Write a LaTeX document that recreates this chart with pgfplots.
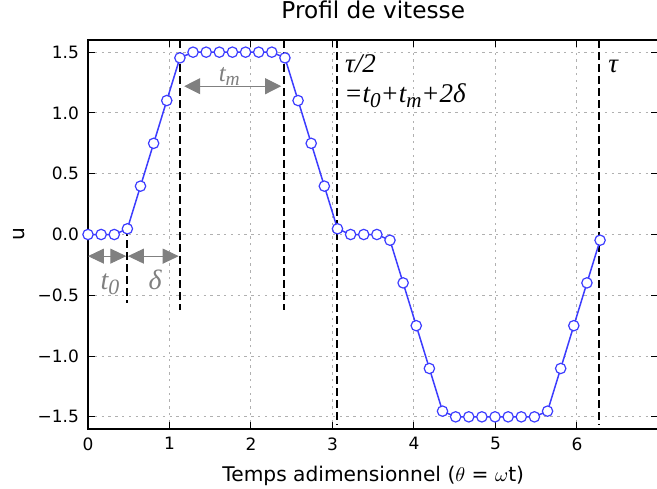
\documentclass[border=0pt]{standalone}
\usepackage{fontspec}
\setmainfont{DejaVu Sans}
\newfontfamily\ann{Liberation Serif}
\usepackage{pgfplots}
\pgfplotsset{compat=1.18}
\usetikzlibrary{arrows.meta}

\definecolor{lineblue}{RGB}{60,60,255}
\definecolor{annogray}{RGB}{128,128,128}
\definecolor{gridgray}{RGB}{176,176,176}

\newcommand\sub[1]{\raisebox{-0.35ex}{\scalebox{0.78}{#1}}}

% profil de vitesse, 40 points sur [0, 2pi]
\pgfplotstableread{
x u
0.0000 0
0.1611 0
0.3222 0
0.4833 0.047
0.6444 0.398
0.8055 0.750
0.9666 1.102
1.1278 1.453
1.2889 1.5
1.4500 1.5
1.6111 1.5
1.7722 1.5
1.9333 1.5
2.0944 1.5
2.2555 1.5
2.4166 1.453
2.5777 1.102
2.7388 0.750
2.8999 0.398
3.0610 0.047
3.2221 0
3.3833 0
3.5444 0
3.7055 -0.047
3.8666 -0.398
4.0277 -0.750
4.1888 -1.102
4.3499 -1.453
4.5110 -1.5
4.6721 -1.5
4.8332 -1.5
4.9943 -1.5
5.1554 -1.5
5.3165 -1.5
5.4777 -1.5
5.6388 -1.453
5.7999 -1.102
5.9610 -0.750
6.1221 -0.398
6.2832 -0.047
}\profil

\begin{document}
\begin{tikzpicture}
\path[use as bounding box] (-44pt,-29.5pt) rectangle (284.5pt,214.5pt);
\begin{axis}[
  at={(0,0)}, anchor=south west,
  scale only axis, width=285.25pt, height=194.5pt,
  xmin=0, xmax=7, ymin=-1.6, ymax=1.6,
  xtick={0,1,2,3,4,5,6,7},
  xticklabels={0,1,2,3,4,5,6,},
  ytick={-1.5,-1,-0.5,0,0.5,1,1.5},
  yticklabels={−1.5,−1.0,−0.5,0.0,0.5,1.0,1.5},
  tick align=inside, major tick length=3.5pt,
  tick style={black, line width=0.5pt},
  axis line style={line width=0.8pt},
  grid=major,
  grid style={gridgray, dash pattern=on 1.2pt off 2.2pt, line width=0.5pt},
  tick label style={font=\fontsize{8.5}{10}\selectfont},
  xticklabel style={yshift=-0.7pt},
  yticklabel style={xshift=-1pt},
  title={Profil de vitesse},
  title style={at={([yshift=5pt]axis description cs:0.5,1)}, anchor=base,
    font=\fontsize{11.6}{13}\selectfont},
  xlabel={Temps adimensionnel ($\theta$ = $\omega$t)},
  xlabel style={at={([yshift=-26.2pt]axis description cs:0.5,0)}, anchor=base,
    font=\fontsize{10.1}{12}\selectfont},
  ylabel={u},
  ylabel style={at={([xshift=-31.5pt]axis description cs:0,0.5)}, anchor=base,
    font=\fontsize{10.1}{12}\selectfont},
  clip mode=individual,
]
% lignes verticales
\addplot[black, line width=1pt, dash pattern=on 4pt off 2pt] coordinates {(0.483,0.05) (0.483,-0.56)};
\addplot[black, line width=1pt, dash pattern=on 4pt off 2pt] coordinates {(1.128,1.6) (1.128,-0.62)};
\addplot[black, line width=1pt, dash pattern=on 4pt off 2pt] coordinates {(2.40,1.6) (2.40,-0.62)};
\addplot[black, line width=1pt, dash pattern=on 4pt off 2pt] coordinates {(3.061,1.6) (3.061,-1.56)};
\addplot[black, line width=1pt, dash pattern=on 4pt off 2pt] coordinates {(6.27,1.6) (6.27,-1.56)};

\addplot[lineblue, line width=0.75pt, mark=*, mark size=2.6pt,
  mark options={fill=white, draw=lineblue, line width=0.6pt}] table {\profil};

% fleches
\draw[annogray, line width=0.5pt, {Triangle[length=8pt,width=7.5pt]}-{Triangle[length=8pt,width=7.5pt]}]
  (axis cs:0,-0.178) -- (axis cs:0.47,-0.178);
\draw[annogray, line width=0.5pt, {Triangle[length=8pt,width=7.5pt]}-{Triangle[length=8pt,width=7.5pt]}]
  (axis cs:0.49,-0.178) -- (axis cs:1.113,-0.178);
\draw[annogray, line width=0.5pt, {Triangle[length=8pt,width=8pt]}-{Triangle[length=8pt,width=8pt]}]
  (axis cs:1.18,1.22) -- (axis cs:2.37,1.22);

\node[anchor=base west, inner sep=0, annogray, font=\ann\itshape\fontsize{14}{16}\selectfont]
  at (axis cs:0.15,-0.453) {t\sub{0}};
\node[anchor=base west, inner sep=0, annogray, font=\ann\itshape\fontsize{14}{16}\selectfont]
  at (axis cs:0.74,-0.453) {δ};
\node[anchor=base west, inner sep=0, annogray, font=\ann\itshape\fontsize{12.5}{14}\selectfont]
  at (axis cs:1.60,1.26) {t\sub{m}};

\node[anchor=base west, inner sep=0, font=\ann\itshape\fontsize{13.5}{15}\selectfont]
  at (axis cs:3.15,1.33) {τ/2};
\node[anchor=base west, inner sep=0, font=\ann\itshape\fontsize{13.5}{15}\selectfont]
  at (axis cs:3.14,1.083) {=t\sub{0}+t\sub{m}+2δ};
\node[anchor=base west, inner sep=0, font=\ann\itshape\fontsize{13.5}{15}\selectfont]
  at (axis cs:6.38,1.33) {τ};
\end{axis}
\end{tikzpicture}
\end{document}
